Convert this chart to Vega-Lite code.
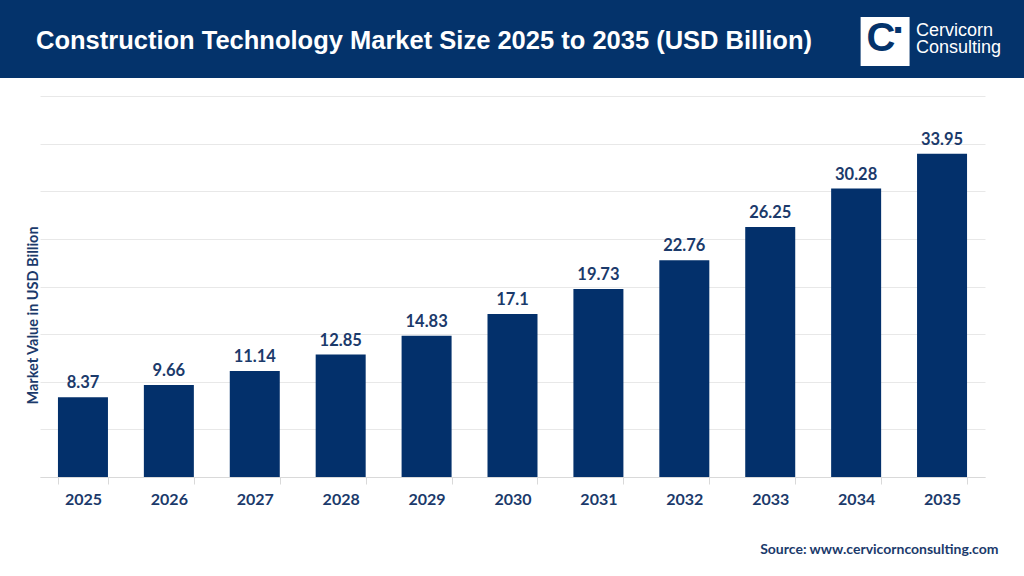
{
  "$schema": "https://vega.github.io/schema/vega-lite/v6.json",
  "background": "white",
  "padding": 0,
  "spacing": 18,
  "config": {"view": {"stroke": null}, "font": "Lato"},
  "vconcat": [
    {
      "width": 1024,
      "height": 78,
      "view": {"fill": "#04336b", "stroke": null},
      "title": {
        "text": "Construction Technology Market Size 2025 to 2035 (USD Billion)",
        "anchor": "start",
        "frame": "group",
        "orient": "top",
        "offset": -74,
        "baseline": "alphabetic",
        "dx": 36,
        "font": "Liberation Sans",
        "fontSize": 25.5,
        "fontWeight": "bold",
        "color": "white"
      },
      "layer": [
        {
          "data": {"values": [{"glyph": "■"}]},
          "mark": {"type": "text", "font": "DejaVu Sans", "fontSize": 64, "color": "white", "align": "center", "baseline": "middle", "dx": -139},
          "encoding": {"x": {"value": "width"}, "text": {"field": "glyph"}}
        },
        {
          "data": {"values": [{"glyph": "C"}]},
          "mark": {"type": "text", "font": "Liberation Sans", "fontWeight": "bold", "fontSize": 40, "color": "#04336b", "align": "center", "baseline": "middle", "dx": -143},
          "encoding": {"x": {"value": "width"}, "text": {"field": "glyph"}}
        },
        {
          "data": {"values": [{"glyph": "▪"}]},
          "mark": {"type": "text", "font": "DejaVu Sans", "fontSize": 12, "color": "#04336b", "align": "center", "baseline": "middle", "dx": -126, "dy": -10},
          "encoding": {"x": {"value": "width"}, "text": {"field": "glyph"}}
        },
        {
          "data": {"values": [{"brand": "Cervicorn\nConsulting"}]},
          "mark": {"type": "text", "font": "Liberation Sans", "fontSize": 18, "lineHeight": 17, "lineBreak": "\n", "color": "white", "align": "left", "baseline": "middle", "dx": -108, "dy": -8},
          "encoding": {"x": {"value": "width"}, "text": {"field": "brand"}}
        }
      ]
    },
    {
      "width": 985,
      "height": 381,
      "view": {"stroke": null},
      "data": {
        "values": [
          {"year": "2025", "value": 8.37},
          {"year": "2026", "value": 9.66},
          {"year": "2027", "value": 11.14},
          {"year": "2028", "value": 12.85},
          {"year": "2029", "value": 14.83},
          {"year": "2030", "value": 17.1},
          {"year": "2031", "value": 19.73},
          {"year": "2032", "value": 22.76},
          {"year": "2033", "value": 26.25},
          {"year": "2034", "value": 30.28},
          {"year": "2035", "value": 33.95}
        ]
      },
      "encoding": {
        "x": {
          "field": "year",
          "type": "ordinal",
          "scale": {"range": [40, 985], "paddingInner": 0.418, "paddingOuter": 0.209},
          "axis": {
            "title": "Source: www.cervicornconsulting.com",
            "titleX": 998,
            "titleY": 76,
            "titleAlign": "right",
            "titleBaseline": "alphabetic",
            "titleFont": "Lato",
            "titleFontSize": 14,
            "titleFontWeight": "bold",
            "titleColor": "#1b3a6b",
            "labelAngle": 0,
            "labelFont": "Lato",
            "labelFontSize": 16,
            "labelFontWeight": "bold",
            "labelColor": "#1b3a6b",
            "labelPadding": 7,
            "tickBand": "extent",
            "tickSize": 7,
            "tickColor": "#d9d9d9",
            "domainColor": "#d9d9d9",
            "grid": false
          }
        },
        "y": {
          "field": "value",
          "type": "quantitative",
          "scale": {"domain": [0, 40]},
          "axis": {
            "title": "Market Value in USD Billion",
            "values": [0, 5, 10, 15, 20, 25, 30, 35, 40],
            "grid": true,
            "gridColor": "#e8e8e8",
            "domain": false,
            "ticks": false,
            "labels": false,
            "titleX": 33,
            "titleY": 219,
            "titleAngle": 270,
            "titleAlign": "center",
            "titleBaseline": "middle",
            "titleFont": "Lato",
            "titleFontSize": 14.5,
            "titleFontWeight": "bold",
            "titleColor": "#1b3a6b"
          }
        }
      },
      "layer": [
        {"mark": {"type": "bar", "color": "#03306b"}},
        {
          "mark": {"type": "text", "baseline": "alphabetic", "dy": -9, "font": "Lato", "fontSize": 16.5, "fontWeight": "bold", "color": "#1b3a6b"},
          "encoding": {"text": {"field": "value", "type": "quantitative", "format": ".2~f"}}
        }
      ]
    }
  ]
}
